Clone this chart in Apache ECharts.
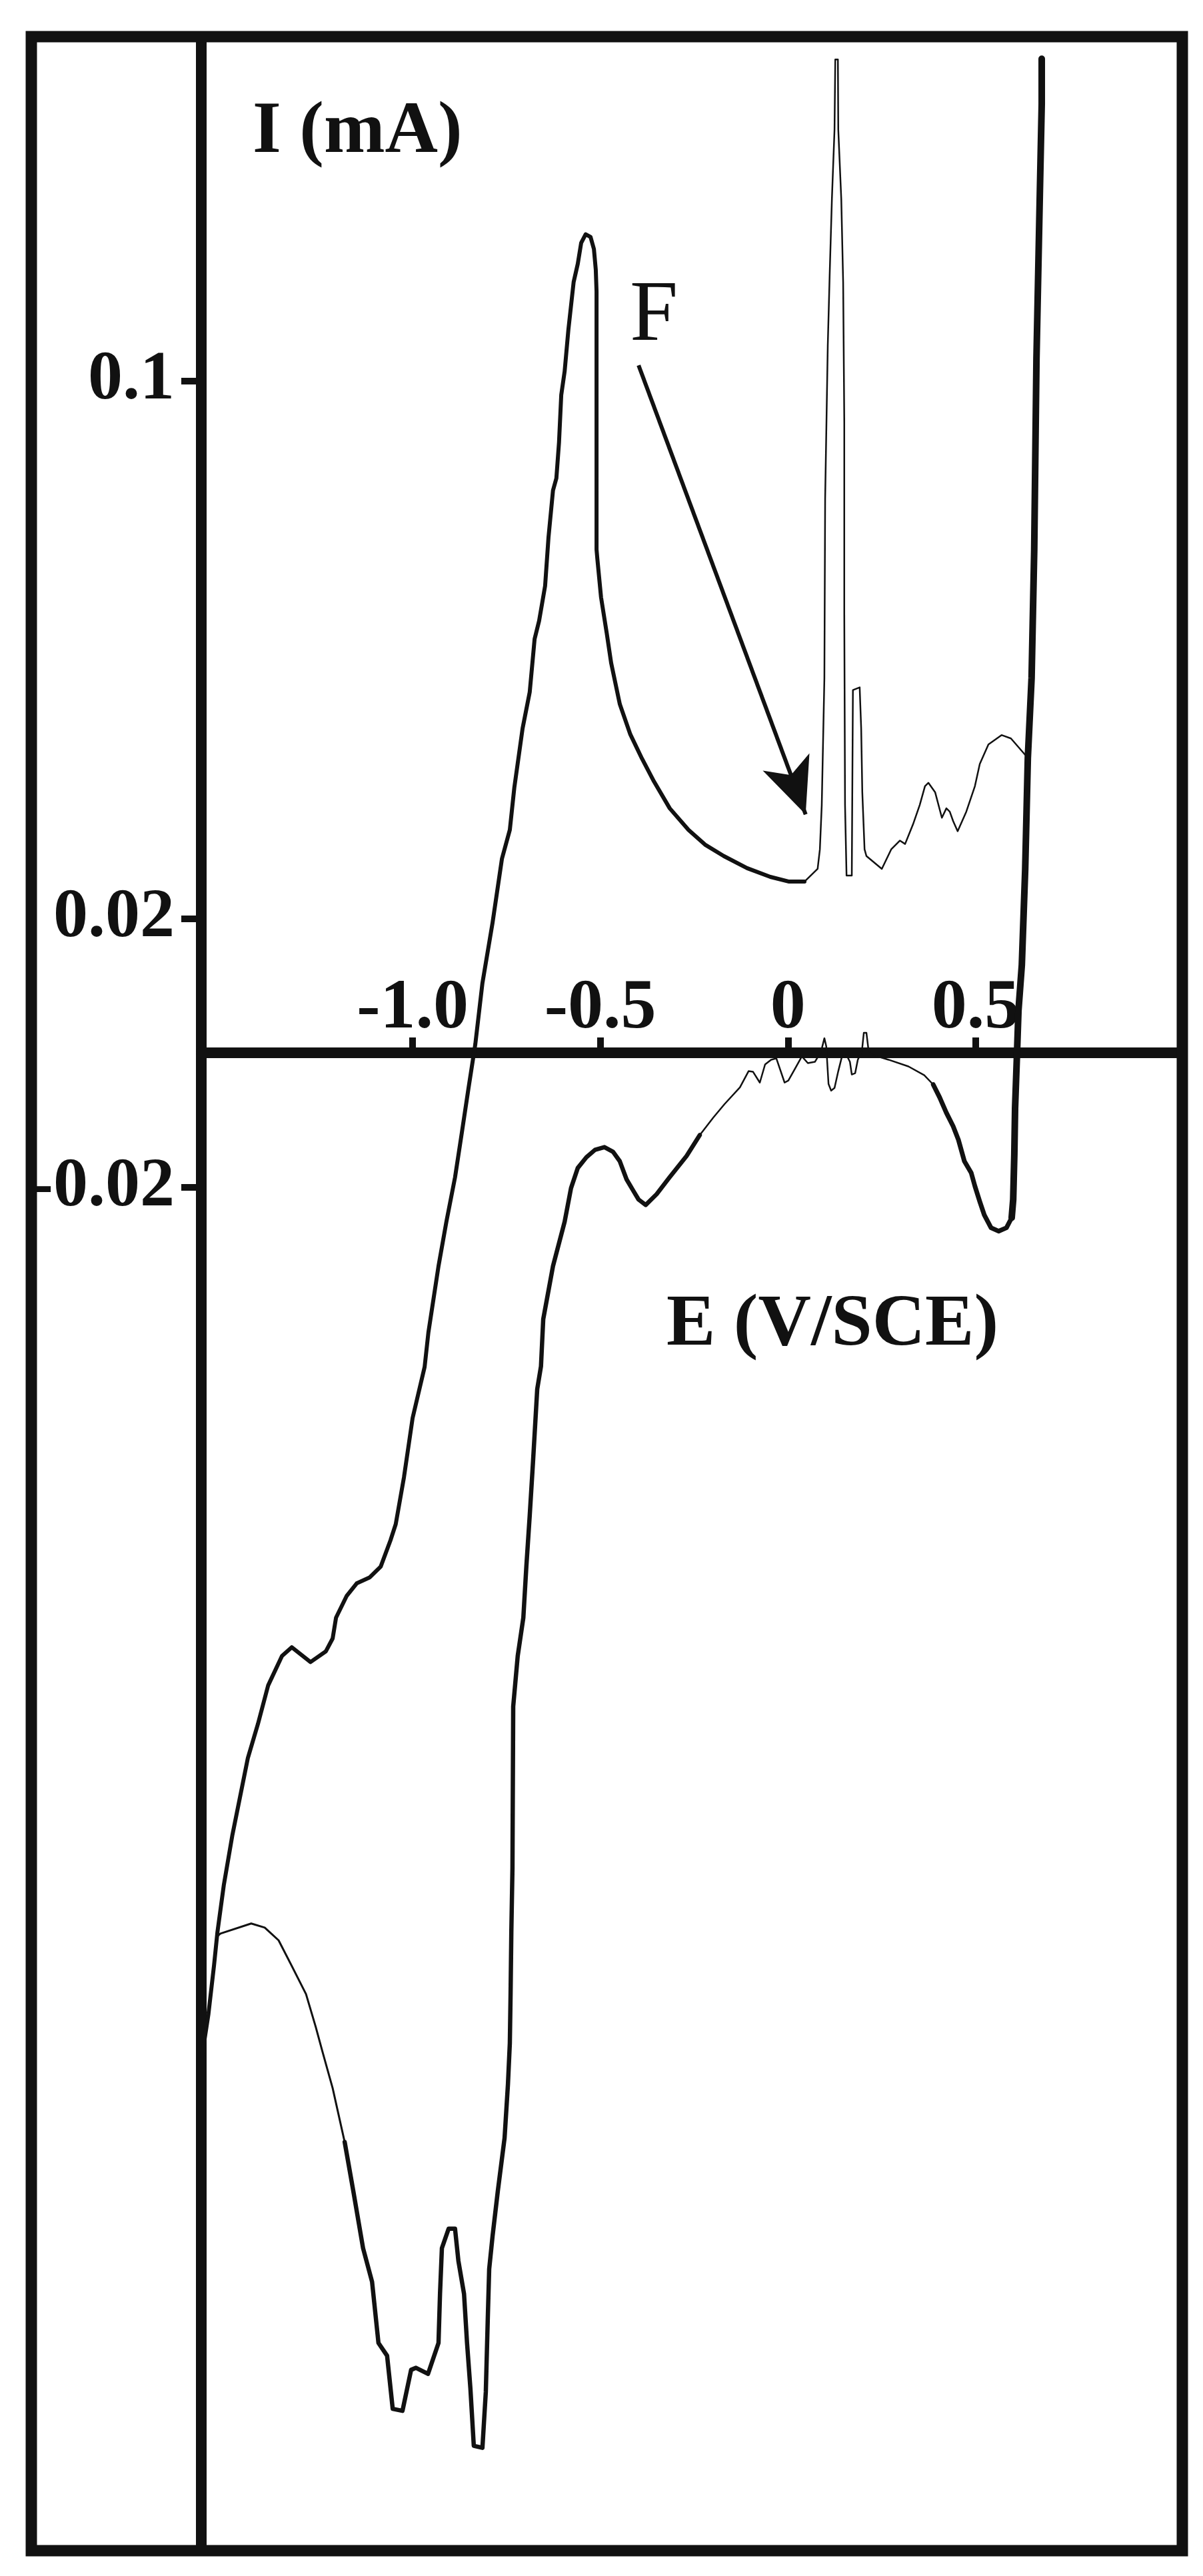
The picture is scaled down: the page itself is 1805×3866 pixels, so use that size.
<!DOCTYPE html>
<html>
<head>
<meta charset="utf-8">
<script src="https://cdn.jsdelivr.net/npm/echarts@6.0.0/dist/echarts.min.js"></script>
<style>
html,body{margin:0;padding:0;background:#ffffff;}
#chart{width:1805px;height:3866px;}
</style>
</head>
<body>
<div id="chart"></div>
<script>
// ---- tick values & labels ----
const xTickValues = [-1.0, -0.5, 0, 0.5];
const xTickLabels = ['-1.0', '-0.5', '0', '0.5'];
const yTickValues = [0.1, 0.02, -0.02];
const yTickLabels = ['0.1', '0.02', '-0.02'];

// ---- curve pieces, [E (V/SCE), I (mA)] ----
const anodicSweep = [[-1.561,-0.1492],[-1.544,-0.1430],[-1.529,-0.1357],[-1.520,-0.1308],[-1.503,-0.1238],[-1.480,-0.1163],[-1.457,-0.1099],[-1.439,-0.1049],[-1.412,-0.0998],[-1.385,-0.0941],[-1.348,-0.0897],[-1.322,-0.0884],[-1.272,-0.0906],[-1.231,-0.0890],[-1.213,-0.0871],[-1.204,-0.0840],[-1.176,-0.0808],[-1.149,-0.0789],[-1.114,-0.0780],[-1.085,-0.0764],[-1.059,-0.0725],[-1.045,-0.0701],[-1.023,-0.0631],[-1.000,-0.0543],[-0.968,-0.0467],[-0.958,-0.0416],[-0.931,-0.0317],[-0.910,-0.0251],[-0.887,-0.0185],[-0.869,-0.0119],[-0.851,-0.0052],[-0.833,0.0013],[-0.814,0.0104],[-0.787,0.0194],[-0.762,0.0289],[-0.741,0.0332],[-0.729,0.0395],[-0.707,0.0483],[-0.688,0.0537],[-0.675,0.0616],[-0.663,0.0643],[-0.647,0.0695],[-0.638,0.0767],[-0.626,0.0837],[-0.617,0.0855],[-0.610,0.0908],[-0.604,0.0979],[-0.595,0.1014],[-0.585,0.1076],[-0.571,0.1147],[-0.560,0.1174],[-0.551,0.1205],[-0.539,0.1218],[-0.526,0.1214],[-0.517,0.1196],[-0.512,0.1165],[-0.510,0.1133],[-0.510,0.0749],[-0.508,0.0736],[-0.498,0.0678],[-0.483,0.0625],[-0.471,0.0580],[-0.448,0.0519],[-0.420,0.0474],[-0.389,0.0438],[-0.357,0.0404],[-0.315,0.0364],[-0.265,0.0332],[-0.221,0.0310],[-0.171,0.0293],[-0.109,0.0275],[-0.047,0.0262],[0.003,0.0255],[0.044,0.0255]];

const anodicSpikes = [[0.044,0.0255],[0.079,0.0274],[0.085,0.0303],[0.090,0.0369],[0.097,0.0558],[0.099,0.0824],[0.106,0.1052],[0.111,0.1156],[0.117,0.1270],[0.124,0.1374],[0.126,0.1478],[0.133,0.1478],[0.134,0.1374],[0.142,0.1270],[0.147,0.1146],[0.150,0.0938],[0.150,0.0654],[0.152,0.0369],[0.156,0.0264],[0.170,0.0264],[0.173,0.0540],[0.191,0.0544],[0.195,0.0483],[0.198,0.0388],[0.204,0.0303],[0.209,0.0293],[0.250,0.0274],[0.275,0.0303],[0.298,0.0316],[0.312,0.0311],[0.333,0.0340],[0.351,0.0369],[0.365,0.0397],[0.374,0.0402],[0.392,0.0388],[0.410,0.0350],[0.422,0.0364],[0.431,0.0359],[0.440,0.0345],[0.452,0.0330],[0.475,0.0359],[0.498,0.0397],[0.511,0.0430],[0.534,0.0459],[0.569,0.0473],[0.594,0.0468],[0.639,0.0439]];

const vertexBranch = [[0.676,0.1479],[0.676,0.1412],[0.671,0.1279],[0.662,0.1033],[0.656,0.0748],[0.649,0.0558],[0.639,0.0439],[0.632,0.0274],[0.623,0.0131],[0.614,0.0063],[0.610,-0.0003],[0.605,-0.0082],[0.603,-0.0151],[0.600,-0.0218],[0.596,-0.0245]];

const cathodicDip = [[0.596,-0.0245],[0.582,-0.0260],[0.561,-0.0265],[0.541,-0.0260],[0.523,-0.0241],[0.511,-0.0221],[0.498,-0.0198],[0.488,-0.0178],[0.470,-0.0161],[0.454,-0.0129],[0.440,-0.0109],[0.422,-0.0089],[0.404,-0.0066],[0.387,-0.0047]];

const cathodicRipples = [[0.387,-0.0047],[0.363,-0.0033],[0.321,-0.0020],[0.268,-0.0010],[0.221,-0.0002],[0.214,0.0007],[0.209,0.0030],[0.202,0.0030],[0.197,0.0003],[0.186,-0.0010],[0.179,-0.0030],[0.170,-0.0032],[0.165,-0.0013],[0.156,-0.0003],[0.143,-0.0007],[0.134,-0.0027],[0.124,-0.0052],[0.115,-0.0056],[0.108,-0.0046],[0.102,0.0010],[0.097,0.0022],[0.088,0.0002],[0.072,-0.0013],[0.053,-0.0015],[0.037,-0.0005],[0.019,-0.0023],[0.001,-0.0041],[-0.009,-0.0044],[-0.031,-0.0008],[-0.045,-0.0010],[-0.061,-0.0017],[-0.075,-0.0044],[-0.093,-0.0028],[-0.105,-0.0027],[-0.128,-0.0051],[-0.169,-0.0076],[-0.199,-0.0096],[-0.235,-0.0122]];

const cathodicPeaks = [[-0.235,-0.0122],[-0.270,-0.0153],[-0.317,-0.0186],[-0.350,-0.0210],[-0.379,-0.0226],[-0.398,-0.0218],[-0.412,-0.0205],[-0.430,-0.0188],[-0.448,-0.0161],[-0.466,-0.0147],[-0.489,-0.0140],[-0.514,-0.0144],[-0.537,-0.0155],[-0.560,-0.0171],[-0.578,-0.0201],[-0.595,-0.0251],[-0.626,-0.0317],[-0.652,-0.0396],[-0.658,-0.0466],[-0.668,-0.0500],[-0.679,-0.0606],[-0.688,-0.0688],[-0.697,-0.0764],[-0.705,-0.0840],[-0.720,-0.0897],[-0.732,-0.0972],[-0.734,-0.1213],[-0.737,-0.1308],[-0.739,-0.1400],[-0.741,-0.1473],[-0.746,-0.1534],[-0.755,-0.1614],[-0.773,-0.1693],[-0.787,-0.1760],[-0.796,-0.1809],[-0.800,-0.1888],[-0.805,-0.1992],[-0.814,-0.2075],[-0.837,-0.2072],[-0.846,-0.1987],[-0.855,-0.1919],[-0.863,-0.1846],[-0.878,-0.1797],[-0.887,-0.1749],[-0.904,-0.1749],[-0.922,-0.1778],[-0.927,-0.1846],[-0.931,-0.1919],[-0.959,-0.1965],[-0.991,-0.1956],[-1.004,-0.1959],[-1.027,-0.2020],[-1.053,-0.2017],[-1.068,-0.1938],[-1.091,-0.1919],[-1.108,-0.1828],[-1.132,-0.1778],[-1.158,-0.1693],[-1.181,-0.1620]];

const cathodicTail = [[-1.181,-0.1620],[-1.213,-0.1540],[-1.240,-0.1486],[-1.258,-0.1449],[-1.284,-0.1400],[-1.322,-0.1358],[-1.357,-0.1320],[-1.394,-0.1301],[-1.430,-0.1295],[-1.512,-0.1310],[-1.520,-0.1314]];

// annotation arrow "F" (data coordinates)
const arrowFrom = [-0.398, 0.1023];
const arrowTo = [0.047, 0.0355];

// ---- chart ----
const INK = '#111111';
const SERIF = '"Liberation Serif", "Times New Roman", serif';

function pick(values, labels, v) {
  for (let i = 0; i < values.length; i++) {
    if (Math.abs(values[i] - v) < 1e-9) return labels[i];
  }
  return '';
}

function piece(name, data, width, extra) {
  return Object.assign({
    name: name,
    type: 'line',
    data: data,
    showSymbol: false,
    symbol: 'none',
    smooth: false,
    silent: true,
    animation: false,
    lineStyle: { color: INK, width: width, cap: 'round', join: 'round' },
    z: 3
  }, extra || {});
}

const chart = echarts.init(document.getElementById('chart'), null, { renderer: 'canvas' });

chart.setOption({
  animation: false,
  backgroundColor: '#ffffff',
  grid: { left: 302, right: 31, top: 55, bottom: 38, containLabel: false, outerBoundsMode: 'none' },
  xAxis: {
    type: 'value',
    min: -1.563,
    max: 1.0506,
    position: 'bottom',
    offset: -2248,
    axisLine: { show: true, onZero: false, lineStyle: { color: INK, width: 16 } },
    axisTick: { show: true, inside: true, length: 23, customValues: xTickValues,
                lineStyle: { color: INK, width: 10 } },
    axisLabel: { show: true, inside: true, margin: 12, customValues: xTickValues,
                 formatter: function (v) { return pick(xTickValues, xTickLabels, v); },
                 color: INK, fontFamily: SERIF, fontWeight: 'bold', fontSize: 106 },
    splitLine: { show: false }
  },
  yAxis: {
    type: 'value',
    min: -0.2228,
    max: 0.1512,
    position: 'left',
    axisLine: { show: true, onZero: false, lineStyle: { color: INK, width: 16 } },
    axisTick: { show: true, inside: false, length: 30, customValues: yTickValues,
                lineStyle: { color: INK, width: 10 } },
    axisLabel: { show: true, margin: 40, customValues: yTickValues,
                 formatter: function (v) { return pick(yTickValues, yTickLabels, v); },
                 color: INK, fontFamily: SERIF, fontWeight: 'bold', fontSize: 104 },
    splitLine: { show: false }
  },
  series: [
    piece('anodic sweep', anodicSweep, 6, {
      markLine: {
        silent: true,
        animation: false,
        symbol: ['none', 'arrow'],
        label: { show: false },
        lineStyle: { color: INK, width: 6, type: 'solid' },
        emphasis: { disabled: true },
        data: [[
          { coord: arrowFrom, symbol: 'none' },
          { coord: arrowTo, symbol: 'arrow', symbolSize: [56, 84] }
        ]]
      }
    }),
    piece('anodic spikes', anodicSpikes, 2.5),
    piece('vertex branch', vertexBranch, 10),
    piece('cathodic dip', cathodicDip, 7),
    piece('cathodic ripples', cathodicRipples, 2.5),
    piece('cathodic peaks', cathodicPeaks, 6.5),
    piece('cathodic tail', cathodicTail, 3)
  ],
  graphic: [
    { type: 'rect', silent: true, z: 10,
      shape: { x: 47, y: 55, width: 1727, height: 3773 },
      style: { fill: 'none', stroke: INK, lineWidth: 17 } },
    { type: 'text', silent: true, z: 10, x: 379, y: 200,
      style: { text: 'I (mA)', fill: INK, font: 'bold 110px ' + SERIF,
               textAlign: 'left', textVerticalAlign: 'middle' } },
    { type: 'text', silent: true, z: 10, x: 1000, y: 1990,
      style: { text: 'E (V/SCE)', fill: INK, font: 'bold 110px ' + SERIF,
               textAlign: 'left', textVerticalAlign: 'middle' } },
    { type: 'text', silent: true, z: 10, x: 945, y: 476,
      style: { text: 'F', fill: INK, font: 'normal 130px ' + SERIF,
               textAlign: 'left', textVerticalAlign: 'middle' } }
  ]
});
</script>
</body>
</html>
